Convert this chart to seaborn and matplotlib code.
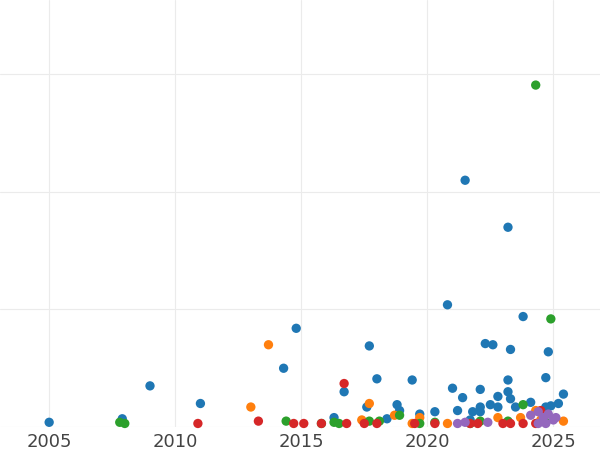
import matplotlib
matplotlib.use("Agg")
import matplotlib.pyplot as plt
import seaborn as sns
import pandas as pd

blue_x = [2005.0,2007.9,2009.0,2011.0,2014.3,2014.8,2016.3,2016.7,2017.6,2017.7,2018.0,2018.4,2018.8,2018.9,2019.4,2019.7,2020.3,2020.8,2021.0,2021.2,2021.4,2021.5,2021.8,2022.1,2022.1,2022.3,2022.5,2022.6,2022.8,2022.8,2023.2,2023.2,2023.2,2023.3,2023.3,2023.5,2023.8,2024.1,2024.7,2024.8,2024.7,2024.9,2025.2,2025.4,2022.1,2021.7]
blue_y = [0.04,0.07,0.35,0.20,0.50,0.84,0.08,0.30,0.17,0.69,0.41,0.07,0.19,0.14,0.40,0.11,0.13,1.04,0.33,0.14,0.25,2.10,0.13,0.17,0.32,0.71,0.19,0.70,0.26,0.17,1.70,0.40,0.30,0.24,0.66,0.17,0.94,0.21,0.42,0.64,0.17,0.18,0.20,0.28,0.13,0.06]
orange_x = [2013.0,2013.7,2017.4,2017.7,2018.7,2019.4,2019.7,2020.8,2022.8,2023.7,2024.3,2024.5,2025.4]
orange_y = [0.17,0.70,0.06,0.20,0.10,0.03,0.08,0.03,0.08,0.08,0.14,0.06,0.05]
green_x = [2007.8,2008.0,2014.4,2015.8,2016.3,2016.5,2017.7,2018.1,2018.9,2019.7,2020.3,2021.7,2022.1,2023.2,2023.8,2024.3,2024.9,2024.7]
green_y = [0.04,0.03,0.05,0.03,0.04,0.03,0.05,0.05,0.10,0.03,0.04,0.03,0.05,0.05,0.19,2.91,0.92,0.04]
red_x = [2010.9,2013.3,2014.7,2015.1,2015.8,2016.7,2016.8,2017.5,2018.0,2019.5,2020.3,2021.7,2022.0,2023.0,2023.3,2023.8,2024.3,2024.5]
red_y = [0.03,0.05,0.03,0.03,0.03,0.37,0.03,0.03,0.03,0.03,0.03,0.03,0.03,0.03,0.03,0.03,0.03,0.14]
purple_x = [2021.2,2021.5,2022.4,2024.1,2024.4,2024.6,2024.8,2025.0,2025.1,2024.7,2024.4]
purple_y = [0.03,0.04,0.04,0.10,0.13,0.08,0.11,0.06,0.08,0.03,0.03]

groups = [("a", blue_x, blue_y), ("b", orange_x, orange_y), ("c", green_x, green_y),
          ("d", red_x, red_y), ("e", purple_x, purple_y)]
df = pd.concat([pd.DataFrame({"x": x, "y": y, "g": g}) for g, x, y in groups])

sns.set_style("whitegrid", {"grid.color": "#ebebeb", "axes.edgecolor": "white"})
fig = plt.figure(figsize=(6, 4.5), dpi=100)
ax = fig.add_axes([0, 23/450, 1, 427/450])
palette = {"a": "#1f77b4", "b": "#ff7f0e", "c": "#2ca02c", "d": "#d62728", "e": "#9467bd"}
sns.scatterplot(data=df, x="x", y="y", hue="g", palette=palette, s=45, linewidth=0,
                legend=False, ax=ax, clip_on=False)
ax.set_xlim(2003.05, 2026.85)
ax.set_ylim(0, 3.634)
ax.set_xticks([2005, 2010, 2015, 2020, 2025])
ax.set_yticks([0, 1, 2, 3])
ax.set_yticklabels([])
ax.tick_params(axis="x", labelsize=13, labelcolor="#444444", length=0, pad=4)
ax.tick_params(axis="y", length=0)
ax.set_xlabel("")
ax.set_ylabel("")
for s in ax.spines.values():
    s.set_visible(False)
fig.savefig("out.png", dpi=100)
